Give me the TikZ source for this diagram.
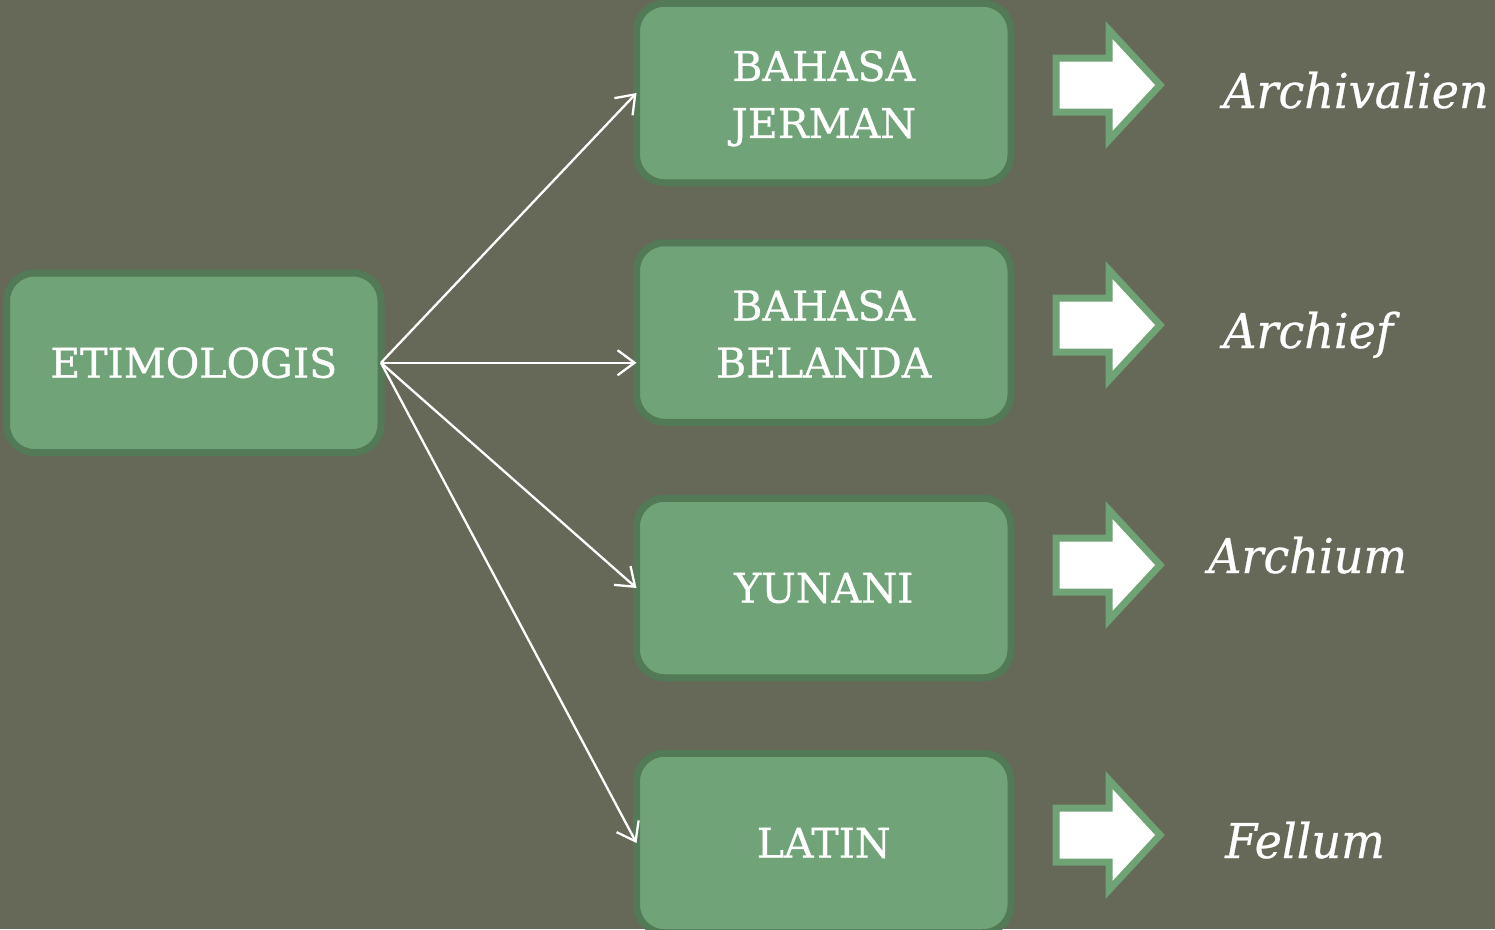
\documentclass[tikz,border=0pt]{standalone}
\usepackage{fontspec}
\setmainfont{DejaVu Serif}
\newfontfamily\boxfont[FakeBold=0.8]{DejaVu Serif}
\newfontfamily\termfont[FakeBold=0.6,FakeStretch=0.96]{DejaVu Serif}
\usetikzlibrary{arrows.meta}
\definecolor{bgc}{HTML}{666858}
\definecolor{boxfill}{HTML}{70A378}
\definecolor{boxline}{HTML}{527A56}
\definecolor{arrline}{HTML}{6FA376}
\tikzset{
  box/.style={draw=boxline, fill=boxfill, line width=7pt, rounded corners=28pt,
    minimum width=374.5pt, minimum height=179.5pt, outer sep=0pt, inner sep=0pt,
    text=white, align=center, font=\boxfont\fontsize{41}{57}\selectfont},
  conn/.style={draw=white, line width=2.3pt, -{Straight Barb[length=17pt,width=25pt]}},
  term/.style={text=white, anchor=base west, inner sep=0pt, font=\termfont\fontsize{48}{58}\selectfont\itshape},
  blockarrow/.style={draw=arrline, fill=white, line width=7pt, miter limit=10},
  pics/barrow/.style={code={\path[blockarrow] (-52,-27) -- (1,-27) -- (1,-55) -- (52,0) -- (1,55) -- (1,27) -- (-52,27) -- cycle;}}
}
\begin{document}
\begin{tikzpicture}[x=1pt,y=-1pt]
\useasboundingbox (0,0) rectangle (1495,929);
\clip (0,0) rectangle (1495,929);
\fill[bgc] (0,0) rectangle (1495,929);

\node[box] (etim) at (193.75,362.75) {ETIMOLOGIS};
\node[box] (jerman) at (823.75,93) {\raisebox{-5pt}[\height][\depth]{\begin{tabular}{@{}c@{}}BAHASA\\JERMAN\end{tabular}}};
\node[box] (belanda) at (823.75,332.5) {\raisebox{-5pt}[\height][\depth]{\begin{tabular}{@{}c@{}}BAHASA\\BELANDA\end{tabular}}};
\node[box] (yunani) at (823.75,588) {YUNANI};
\node[box] (latin) at (823.75,843) {LATIN};

\draw[conn] (etim.east) -- (jerman.west);
\draw[conn] (etim.east) -- (belanda.west |- etim.east);
\draw[conn] (etim.east) -- (yunani.west);
\draw[conn] (etim.east) -- (latin.west);

\pic at (1108,85) {barrow};
\pic at (1108,325) {barrow};
\pic at (1108,565) {barrow};
\pic at (1108,835) {barrow};

\node[term] (t1) at (1223,108) {Archivalien};
\node[term] (t2) at (1223,348) {Archief};
\node[term] (t3) at (1208,573) {Archium};
\node[term] (t4) at (1225,858) {Fellum};
\end{tikzpicture}
\end{document}
